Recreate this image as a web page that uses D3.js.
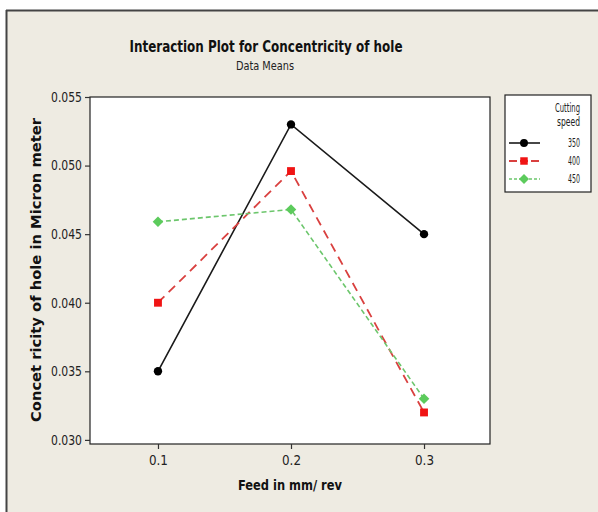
<!DOCTYPE html>
<html><head><meta charset="utf-8">
<script src="https://cdn.jsdelivr.net/npm/d3@7"></script>
<style>
html,body{margin:0;padding:0;background:#fff;}
svg text{font-family:"DejaVu Sans Condensed","DejaVu Sans","Liberation Sans Narrow",sans-serif;font-stretch:condensed;}
</style></head>
<body><svg id="c" width="598" height="512"></svg>
<script>
const feeds = [0.1, 0.2, 0.3];
const xTicks = [0.1, 0.2, 0.3];
const yTicks = [0.030, 0.035, 0.040, 0.045, 0.050, 0.055];
const speeds = ["350", "400", "450"];
const speed350 = [0.0350, 0.0530, 0.0450];
const speed400 = [0.0400, 0.0496, 0.0320];
const speed450 = [0.0459, 0.0468, 0.0330];
const seriesValues = [speed350, speed400, speed450];

const diamond = {draw(ctx, size){ const r = Math.sqrt(size/2); ctx.moveTo(0,-r); ctx.lineTo(r,0); ctx.lineTo(0,r); ctx.lineTo(-r,0); ctx.closePath(); }};
const styles = [
  {line:"#1a1a1a", dash:null, width:1.6, fill:"#000", shape:d3.symbolCircle, size:55},
  {line:"#d9403f", dash:"9,6", width:1.8, fill:"#f01414", shape:d3.symbolSquare, size:62},
  {line:"#6cc66c", dash:"5,3", width:1.6, fill:"#5ccb5c", shape:diamond, size:56}
];

const svg = d3.select("#c");
svg.append("rect").attr("x",6).attr("y",10).attr("width",592).attr("height",502).attr("fill","#eeebe2");
svg.append("line").attr("x1",6).attr("x2",598).attr("y1",10.5).attr("y2",10.5).attr("stroke","#444").attr("stroke-width",2);
svg.append("line").attr("x1",6.5).attr("x2",6.5).attr("y1",10).attr("y2",512).attr("stroke","#444").attr("stroke-width",2);

const x = d3.scaleLinear().domain([0.0489, 0.3496]).range([90, 490]);
const y = d3.scaleLinear().domain([0.0297, 0.0550]).range([444, 97]);

svg.append("rect").attr("x",90).attr("y",97).attr("width",400).attr("height",347)
  .attr("fill","#fff").attr("stroke","#222").attr("stroke-width",1.2);

const xa = svg.append("g").attr("transform","translate(0,444)")
  .call(d3.axisBottom(x).tickValues(xTicks).tickFormat(d3.format(".1f")).tickSize(5).tickSizeOuter(0));
const ya = svg.append("g").attr("transform","translate(90,0)")
  .call(d3.axisLeft(y).tickValues(yTicks).tickFormat(d3.format(".3f")).tickSize(5).tickSizeOuter(0));
[xa, ya].forEach(g=>{
  g.select(".domain").remove();
  g.selectAll(".tick line").attr("stroke","#333").attr("stroke-width",1.2);
  g.selectAll(".tick text").attr("font-size",13.5).attr("fill","#222")
   .attr("font-family",null).style("font-family",null);
});
xa.selectAll(".tick text").attr("dy","0.71em").attr("y",11)
  .attr("textLength",19).attr("lengthAdjust","spacingAndGlyphs");
ya.selectAll(".tick text").attr("x",-8)
  .attr("textLength",31).attr("lengthAdjust","spacingAndGlyphs");

const line = d3.line().x((d,i)=>x(feeds[i])).y(d=>y(d));
seriesValues.forEach((vals,k)=>{
  const s = styles[k];
  svg.append("path").datum(vals).attr("d",line).attr("fill","none")
    .attr("stroke",s.line).attr("stroke-width",s.width)
    .attr("stroke-dasharray",s.dash);
});
seriesValues.forEach((vals,k)=>{
  const s = styles[k];
  svg.append("g").selectAll("path").data(vals).join("path")
    .attr("transform",(d,i)=>`translate(${x(feeds[i])},${y(d)})`)
    .attr("d",d3.symbol().type(s.shape).size(s.size)).attr("fill",s.fill);
});

svg.append("text").attr("x",266).attr("y",52).attr("text-anchor","middle")
  .attr("font-size",16.5).attr("font-weight","bold").attr("fill","#111")
  .attr("textLength",273).attr("lengthAdjust","spacingAndGlyphs")
  .text("Interaction Plot for Concentricity of hole");
svg.append("text").attr("x",265).attr("y",70).attr("text-anchor","middle")
  .attr("font-size",12.5).attr("fill","#222")
  .attr("textLength",58).attr("lengthAdjust","spacingAndGlyphs")
  .text("Data Means");
svg.append("text").attr("x",290).attr("y",490).attr("text-anchor","middle")
  .attr("font-size",14).attr("font-weight","bold").attr("fill","#111")
  .attr("textLength",104).attr("lengthAdjust","spacingAndGlyphs")
  .text("Feed in mm/ rev");
svg.append("text").attr("transform","translate(41,270) rotate(-90)").attr("text-anchor","middle")
  .attr("font-size",14.5).attr("font-weight","bold").attr("fill","#111")
  .attr("textLength",304).attr("lengthAdjust","spacingAndGlyphs")
  .text("Concet ricity of hole in Micron meter");

const lg = svg.append("g");
lg.append("rect").attr("x",505).attr("y",95).attr("width",86).attr("height",97)
  .attr("fill","#fff").attr("stroke","#222").attr("stroke-width",1.2);
lg.append("text").attr("x",580).attr("y",112).attr("text-anchor","end").attr("font-size",12).attr("fill","#222")
  .attr("textLength",25).attr("lengthAdjust","spacingAndGlyphs").text("Cutting");
lg.append("text").attr("x",580).attr("y",126).attr("text-anchor","end").attr("font-size",12).attr("fill","#222")
  .attr("textLength",23).attr("lengthAdjust","spacingAndGlyphs").text("speed");
speeds.forEach((sp,k)=>{
  const s = styles[k], yy = 143 + k*18;
  lg.append("line").attr("x1",509).attr("x2",540).attr("y1",yy).attr("y2",yy)
    .attr("stroke",s.line).attr("stroke-width",s.width).attr("stroke-dasharray",s.dash ? (k===1?"8,3":"3,2") : null);
  lg.append("path").attr("transform",`translate(524,${yy})`).attr("d",d3.symbol().type(s.shape).size(s.size*0.9)).attr("fill",s.fill);
  lg.append("text").attr("x",580).attr("y",yy+4).attr("text-anchor","end").attr("font-size",12).attr("fill","#222")
    .attr("textLength",12).attr("lengthAdjust","spacingAndGlyphs").text(sp);
});
</script></body></html>
